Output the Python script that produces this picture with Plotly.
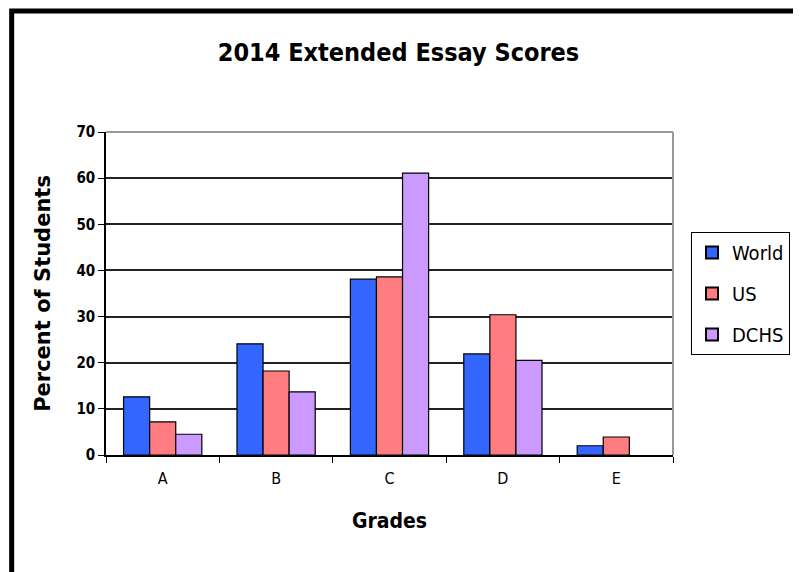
import plotly.graph_objects as go

categories = ["A", "B", "C", "D", "E"]
world = [12.6, 24.1, 38.1, 21.9, 2.0]
us = [7.2, 18.2, 38.6, 30.4, 3.9]
dchs = [4.5, 13.7, 61.1, 20.5, None]
y_ticks = [0, 10, 20, 30, 40, 50, 60, 70]

COND = "DejaVu Sans Condensed, Liberation Sans Narrow, Arial Narrow, sans-serif"
WIDE = "DejaVu Sans, Liberation Sans, Arial, sans-serif"

# page offset (browser body margin)
OX, OY = 8, 8
W, H = 801 - OX, 572 - OY
# plot area in page pixels
L, R, T, B = 106, 674, 132, 455

fig = go.Figure()
for i, (name, vals, col) in enumerate([("World", world, "#3366FF"), ("US", us, "#FF7C80"), ("DCHS", dchs, "#CC99FF")]):
    fig.add_trace(go.Bar(x=categories, y=vals, name=name, legendgroup=name,
                         marker=dict(color=col, line=dict(color="#000000", width=1.2))))

def px_x(p):
    return (p - L) / (R - L)

def px_y(p):
    return (B - p) / (B - T)

fig.update_layout(
    width=W, height=H,
    margin=dict(l=L - OX, r=W - (R - OX), t=T - OY, b=H - (B - OY), pad=0),
    paper_bgcolor="white", plot_bgcolor="white",
    barmode="group", bargap=0.31, bargroupgap=0,
    showlegend=True,
    title=dict(text="<b>2014 Extended Essay Scores</b>", x=px_x(399), xref="paper", xanchor="center",
               y=1 - (52 - OY) / H, yanchor="middle",
               font=dict(family=COND, size=25, color="#000")),
    legend=dict(x=px_x(691), y=px_y(232), xanchor="left", yanchor="top",
                bordercolor="#000", borderwidth=1, bgcolor="white",
                font=dict(family=COND, size=20, color="#000"),
                itemsizing="constant", tracegroupgap=12, itemwidth=30),
    xaxis=dict(showgrid=False, showline=True, linecolor="#000", linewidth=1.5,
               ticks="outside", tickson="boundaries", ticklen=6, tickcolor="#000", tickwidth=1,
               ticklabelstandoff=8,
               tickfont=dict(family=COND, size=16, color="#000"),
               title=dict(text="<b>Grades</b>", font=dict(family=COND, size=21, color="#000"), standoff=26),
               mirror=False),
    yaxis=dict(range=[0, 70], tickvals=y_ticks, showgrid=True, gridcolor="#222", gridwidth=1.6,
               showline=True, linecolor="#000", linewidth=1.5, zeroline=False,
               ticks="outside", ticklen=6, tickcolor="#000",
               tickfont=dict(family=COND, size=15, color="#000", weight="bold"),
               title=dict(text="<b>Percent of Students</b>", font=dict(family=WIDE, size=21, color="#000"), standoff=20)),
    shapes=[
        dict(type="line", xref="paper", yref="paper", x0=0, x1=1, y0=1, y1=1,
             line=dict(color="#999", width=2)),
        dict(type="line", xref="paper", yref="paper", x0=1, x1=1, y0=0, y1=1,
             line=dict(color="#999", width=2)),
        dict(type="rect", xref="paper", yref="paper",
             x0=px_x(11.5), x1=px_x(799), y0=px_y(600), y1=px_y(11),
             line=dict(color="#000", width=5), layer="above"),
    ],
)

fig.write_html("out.html")
